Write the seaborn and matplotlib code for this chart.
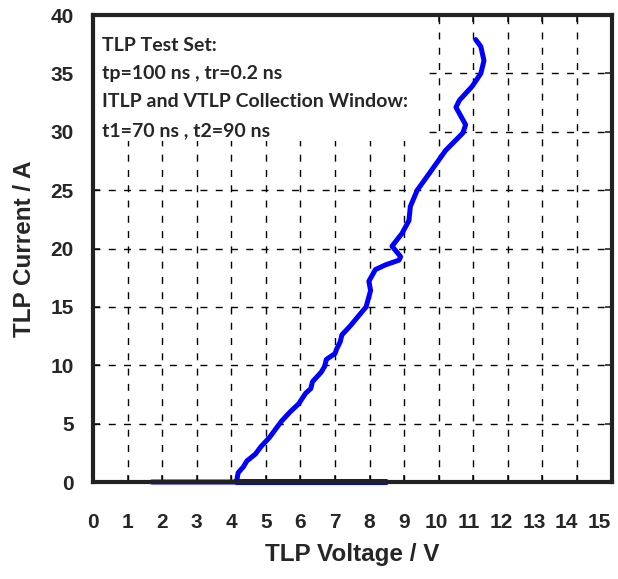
import numpy as np
import pandas as pd
import seaborn as sns
import matplotlib.pyplot as plt
import matplotlib.transforms as mtransforms
from matplotlib.patches import Rectangle

# TLP I-V curve (leakage sweep, snapback, then rise)
tlp_voltage = [1.7, 8.5, 4.15, 4.2, 4.35, 4.45, 4.7, 4.85, 5.1, 5.3, 5.45, 5.7,
               5.95, 6.15, 6.3, 6.35, 6.6, 6.7, 6.75, 7.0, 7.05, 7.15, 7.2,
               7.45, 7.9, 8.03, 7.98, 8.17, 8.46, 8.85, 8.9, 8.65, 8.94, 9.14,
               9.18, 9.38, 9.72, 10.2, 10.7, 10.78, 10.5, 10.6, 10.97, 11.22,
               11.31, 11.22, 11.07]
tlp_current = [0, 0, 0, 0.8, 1.3, 1.8, 2.4, 3.0, 3.8, 4.6, 5.2, 6.0,
               6.7, 7.6, 8.0, 8.6, 9.4, 9.9, 10.5, 11.0, 11.4, 12.0, 12.6,
               13.4, 15.0, 16.4, 17.2, 18.2, 18.6, 19.0, 19.3, 20.2, 21.3, 22.4,
               23.6, 25.0, 26.4, 28.4, 29.9, 30.6, 32.1, 32.7, 33.9, 35.0,
               36.1, 37.3, 37.9]

x_ticks = list(range(0, 16))
y_ticks = list(range(0, 41, 5))

info_lines = ["TLP Test Set:", "tp=100 ns , tr=0.2 ns",
              "ITLP and VTLP Collection Window:", "t1=70 ns , t2=90 ns"]
info_y = [37.4, 35.0, 32.6, 30.1]

df = pd.DataFrame({'V': tlp_voltage, 'I': tlp_current})

sns.set_style("ticks")
plt.rcParams['font.family'] = ['Liberation Sans', 'DejaVu Sans']

fig = plt.figure(figsize=(6.18, 5.79), dpi=100)
ax = fig.add_axes([0.1505, 0.1675, 0.839, 0.8065])
ax.set_xlim(0, 15)
ax.set_ylim(0, 40)

# dashed grid drawn by hand so the text box can sit on top of it
dash = (0, (5, 6))
ax.vlines(x_ticks[1:-1], 0, 40, colors='black', linestyles=dash, linewidth=1.0, zorder=0.8)
ax.hlines(y_ticks[1:-1], 0, 15, colors='black', linestyles=dash, linewidth=1.0, zorder=0.8)
ax.add_patch(Rectangle((0, 29.2), 9.6, 10.8, facecolor='white', edgecolor='none', zorder=1))

sns.lineplot(x='V', y='I', data=df, sort=False, estimator=None, color='#0000ff',
             linewidth=3.6, ax=ax, zorder=5, clip_on=False)

ax.set_xlim(0, 15)
ax.set_ylim(0, 40)
ax.set_xticks(x_ticks)
ax.set_yticks(y_ticks)
ax.tick_params(direction='in', length=5, width=1.2, top=True, right=True, labelsize=15)
ax.tick_params(axis='x', pad=22)
ax.tick_params(axis='y', pad=14)
for lab in ax.get_xticklabels() + ax.get_yticklabels():
    lab.set_fontweight('bold')
# the right-hand labels are squeezed together a little, as in the original
for i, lab in enumerate(ax.get_xticklabels()):
    shift = -max(0, i - 9) * 1.5 / 72
    lab.set_transform(lab.get_transform() +
                      mtransforms.ScaledTranslation(shift, 0, fig.dpi_scale_trans))
for s in ax.spines.values():
    s.set_linewidth(3)
    s.set_color('#222222')
    s.set_zorder(6)

ax.set_xlabel('TLP Voltage / V', fontsize=17.5, fontweight='bold', labelpad=8)
ax.set_ylabel('TLP Current / A', fontsize=17.5, fontweight='bold', labelpad=10)

for txt, yy in zip(info_lines, info_y):
    ax.text(0.26, yy, txt, fontsize=14, fontweight='bold', family=['Lato', 'DejaVu Sans'],
            va='center', ha='left', zorder=6)

fig.savefig('out.png', dpi=100)
